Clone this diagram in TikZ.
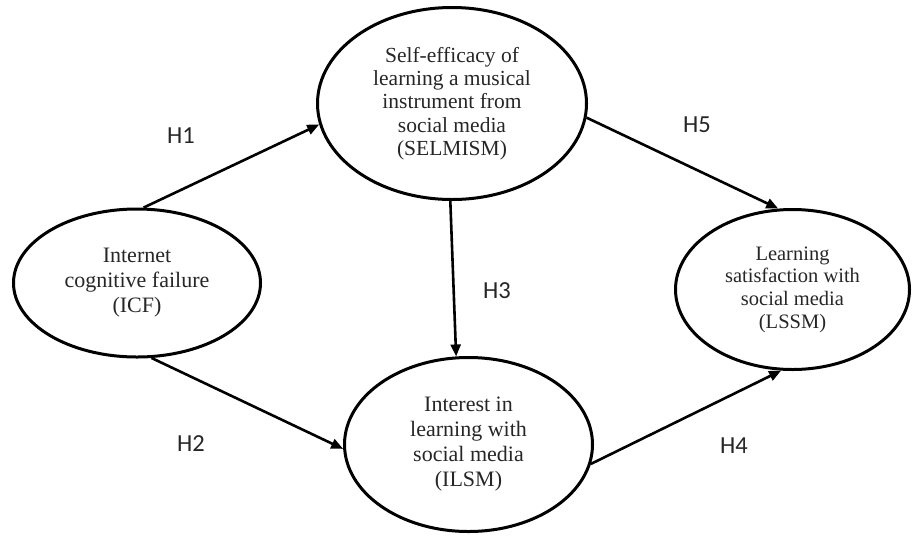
\documentclass[tikz,border=0pt]{standalone}
\usepackage{fontspec}
\setmainfont{Liberation Serif}
\newfontfamily\lblfont{Carlito}
\usetikzlibrary{shapes.geometric,arrows.meta}
\begin{document}
\begin{tikzpicture}[x=1pt,y=-1pt,
  construct/.style={ellipse,draw=black,line width=3pt,inner sep=0pt,align=center,text=black!85},
  link/.style={line width=2.6pt,-{Triangle[length=12pt,width=10pt]}},
  hyp/.style={inner sep=0pt,font=\lblfont\fontsize{24.5}{26}\selectfont,text=black!85}]
\useasboundingbox (0,0) rectangle (912,536);
\node[construct,minimum width=247pt,minimum height=148pt,font=\fontsize{22}{25}\selectfont]
  (icf) at (137,283) {Internet\\cognitive failure\\(ICF)};
\node[construct,minimum width=269pt,minimum height=192pt,font=\fontsize{21.5}{23.3}\selectfont]
  (sel) at (452,103.5) {Self-efficacy of\\learning a musical\\instrument from\\social media\\(SELMISM)};
\node[construct,minimum width=234pt,minimum height=160pt,font=\fontsize{20.5}{22.7}\selectfont]
  (lssm) at (792.5,289.5) {Learning\\satisfaction with\\social media\\(LSSM)};
\node[construct,minimum width=248pt,minimum height=174pt,font=\fontsize{22}{25}\selectfont]
  (ilsm) at (468.5,444.5) {Interest in\\learning with\\social media\\(ILSM)};
\draw[link] (icf.85.5) -- (sel.189.7);
\draw[link] (icf.281.5) -- (ilsm.182.5);
\draw[link] (sel.269.4) -- (ilsm.98.8);
\draw[link] (ilsm.351.5) -- (lssm.262.7);
\draw[link] (sel.354.1) -- (lssm.100);
\node[hyp] (h1) at (181,136) {H1};
\node[hyp] (h2) at (191,443.5) {H2};
\node[hyp] (h3) at (497,291) {H3};
\node[hyp] (h4) at (734,446) {H4};
\node[hyp] (h5) at (697,125) {H5};
\end{tikzpicture}
\end{document}
